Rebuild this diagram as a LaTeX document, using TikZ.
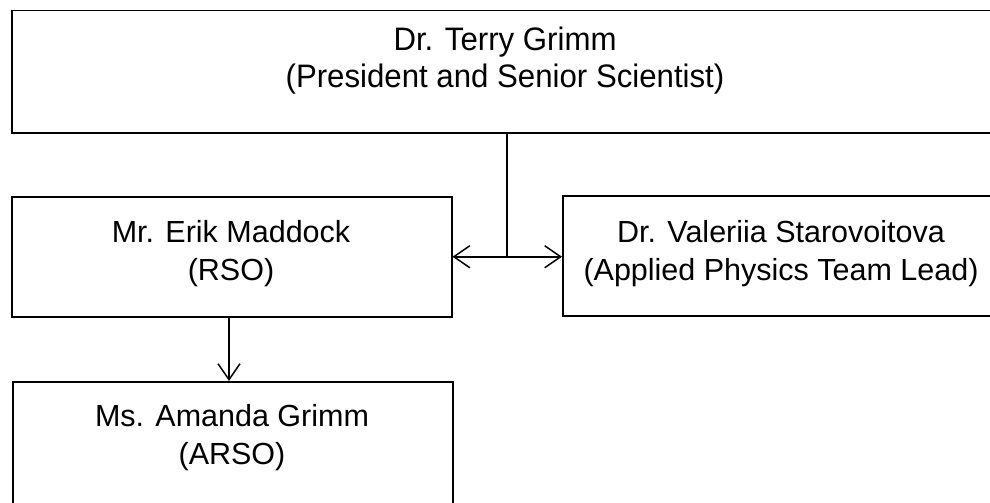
\documentclass[tikz,border=0pt]{standalone}
\usepackage{fontspec}
\setmainfont{Liberation Sans}
\usetikzlibrary{arrows.meta}
\begin{document}
\begin{tikzpicture}[x=1pt,y=-1pt,line width=1.5pt,
  box/.style={draw,rectangle,inner sep=0pt,anchor=north west},
  lbl/.style={align=center,inner sep=0pt,font=\fontsize{30.5}{38}\selectfont},
  toplbl/.style={align=center,inner sep=0pt,font=\addfontfeatures{FakeStretch=0.96}\fontsize{32.5}{37}\selectfont},
  conn/.style={-{Straight Barb[length=16pt,width=22pt,line width=1.5pt]}}]
\useasboundingbox (0,0) rectangle (990,503);
\clip (0,0) rectangle (990,503);
\fill[white] (0,0) rectangle (990,503);
% boxes
\node[box,minimum width=990pt,minimum height=122pt] (top) at (11,10) {};
\node[box,minimum width=440pt,minimum height=120pt] (rso) at (11,196) {};
\node[box,minimum width=440pt,minimum height=120pt] (aplead) at (562,195) {};
\node[box,minimum width=440pt,minimum height=140pt] (arso) at (12,381) {};
% texts
\node[toplbl] (toptxt) at (505,61) {Dr. Terry Grimm\\(President and Senior Scientist)};
\node[lbl] (rsotxt) at (231,254) {Mr. Erik Maddock\\(RSO)};
\node[lbl] (apleadtxt) at (781,254) {Dr. Valeriia Starovoitova\\(Applied Physics Team Lead)};
\node[lbl] (arsotxt) at (232,438) {Ms. Amanda Grimm\\(ARSO)};
% connectors
\draw (top.south) -- (top.south |- rso.east) coordinate (j);
\draw[conn] (j) -- (rso.east);
\draw[conn] (j) -- (j -| aplead.west);
\draw[conn] (rso.south -| 229,0) -- (arso.north -| 229,0);
\end{tikzpicture}
\end{document}
